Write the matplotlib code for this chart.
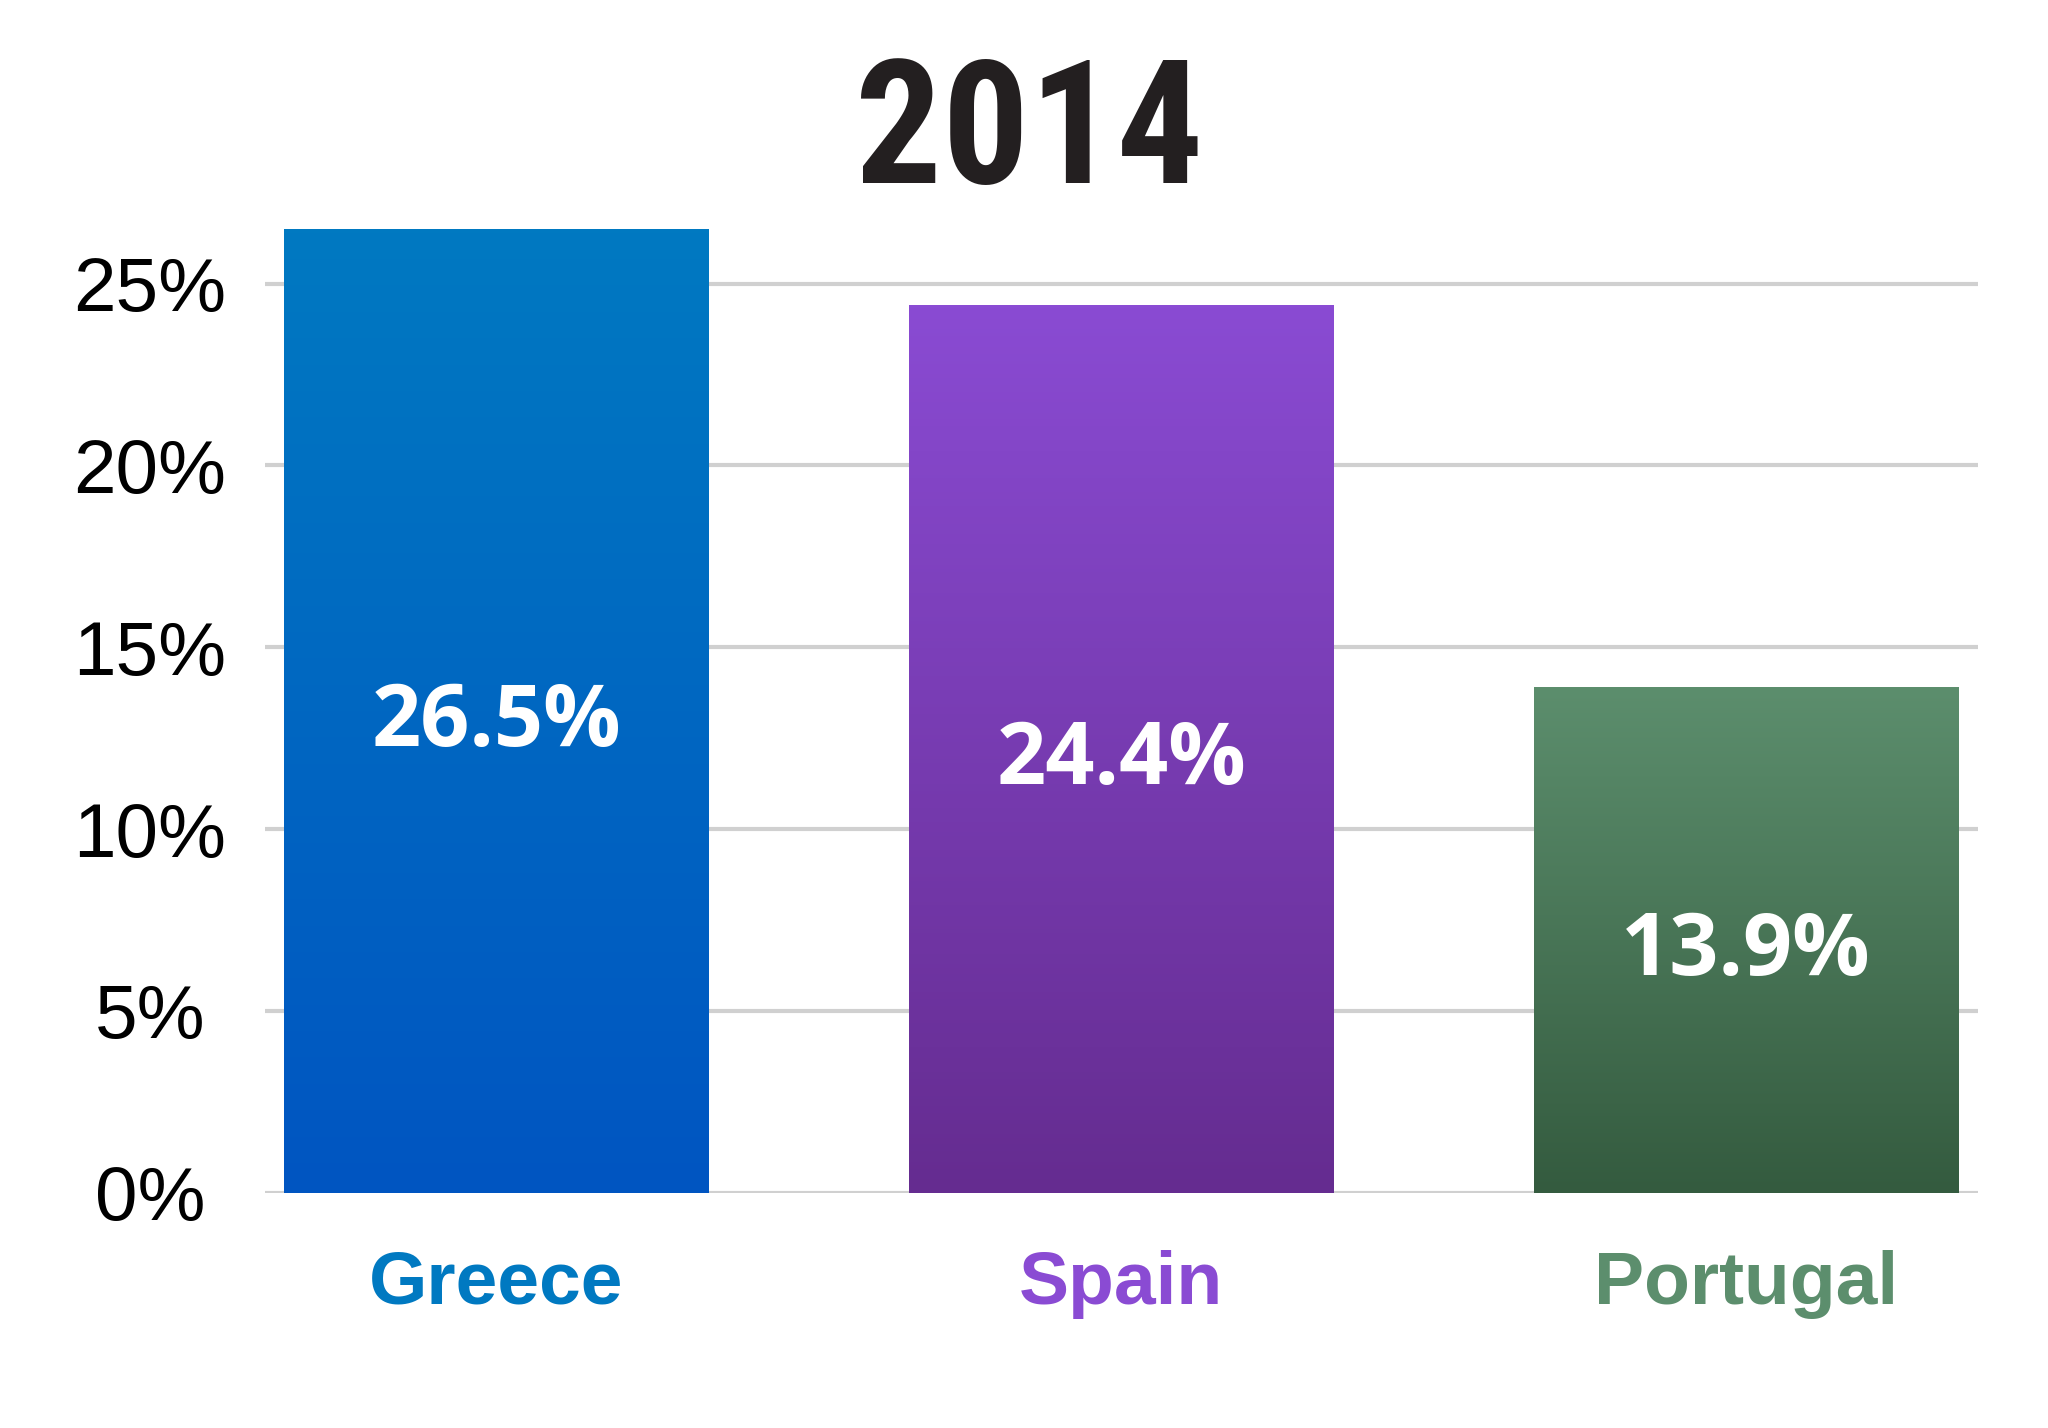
import numpy as np
import matplotlib
matplotlib.use('Agg')
import matplotlib.pyplot as plt
from matplotlib.colors import LinearSegmentedColormap

countries = ['Greece', 'Spain', 'Portugal']
rates = [26.5, 24.4, 13.9]
top_colors = ['#0079c1', '#8a4bd3', '#5c8e6d']
bottom_colors = ['#0055c1', '#652c90', '#345b3f']
label_colors = ['#0079c1', '#8a4bd3', '#5c8e6d']
yticks = [0, 5, 10, 15, 20, 25]
title = '2014'

fig = plt.figure(figsize=(20.48, 14.28), dpi=100)
ax = fig.add_axes([0.1295, 0.1647, 0.8365, 0.6877])

x = np.arange(len(countries))
bars = ax.bar(x, rates, width=0.68, color='none', edgecolor='none', zorder=3)

# gradient fill, clipped to each bar
grad = np.linspace(0, 1, 256).reshape(-1, 1)
for b, c_top, c_bot in zip(bars, top_colors, bottom_colors):
    cmap = LinearSegmentedColormap.from_list('g', [c_bot, c_top])
    x0, w, h = b.get_x(), b.get_width(), b.get_height()
    im = ax.imshow(grad, cmap=cmap, aspect='auto', origin='lower',
                   extent=[x0, x0 + w, 0, h], zorder=3)
    im.set_clip_path(b)

for xi, r in zip(x, rates):
    ax.annotate(f'{r}%', (xi, r / 2), xytext=(0, -9), textcoords='offset points',
                ha='center', va='center', color='white',
                fontsize=62, fontweight='bold', family=['Open Sans', 'DejaVu Sans'],
                zorder=4)

ax.set_xlim(-0.37, 2.372)
ax.set_ylim(0, 27)
ax.set_yticks(yticks)
ax.set_yticklabels([f'{t}%' for t in yticks], fontsize=55,
                   family=['Liberation Sans', 'DejaVu Sans'])
for lab in ax.get_yticklabels():
    lab.set_horizontalalignment('center')
ax.tick_params(axis='y', length=0, pad=83)

ax.set_xticks(x)
ax.set_xticklabels(countries, fontsize=54, fontweight='bold',
                   family=['Liberation Sans', 'DejaVu Sans'])
for lab, c in zip(ax.get_xticklabels(), label_colors):
    lab.set_color(c)
ax.tick_params(axis='x', length=0, pad=41)

ax.grid(axis='y', color='#d0d0d0', linewidth=3, zorder=0)
ax.set_axisbelow(True)
for s in ax.spines.values():
    s.set_visible(False)

fig.text(0.5025, 0.8718, title, ha='center', va='baseline', fontsize=124,
         fontweight='bold', fontstretch='condensed', color='#231f20',
         family=['Roboto Condensed', 'Roboto', 'DejaVu Sans'])

fig.savefig('out.png', dpi=100, facecolor='white')
